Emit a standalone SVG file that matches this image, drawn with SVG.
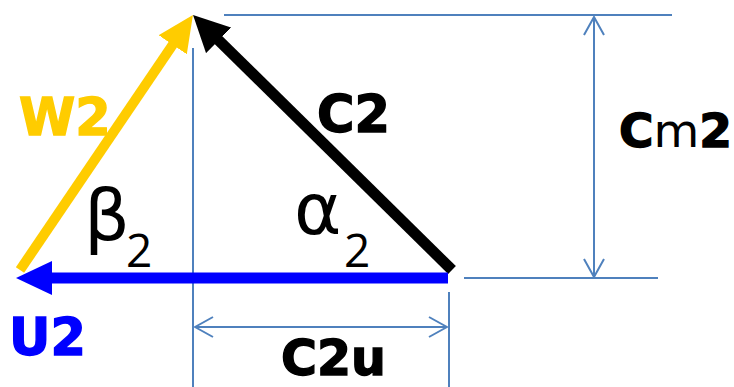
<svg xmlns="http://www.w3.org/2000/svg" width="734" height="387" viewBox="0 0 734 387">
<style>
.dim{stroke:#4F81BD;stroke-width:2;fill:none}
.lbl{font-family:"DejaVu Sans","Liberation Sans",sans-serif;font-weight:bold;font-size:51px;stroke-width:1.4}
.greek{font-family:"DejaVu Sans","Liberation Sans",sans-serif;font-size:72px;fill:#000}
.sub{font-family:"Open Sans","DejaVu Sans",sans-serif;font-size:46px;fill:#000}
</style>
<defs>
<marker id="ahY" viewBox="0 0 36 34" refX="6" refY="17" markerWidth="36" markerHeight="34" markerUnits="userSpaceOnUse" orient="auto"><path d="M0,0 L36,17 L0,34 z" fill="#FFCC00"/></marker>
<marker id="ahK" viewBox="0 0 36 36" refX="6" refY="18" markerWidth="36" markerHeight="36" markerUnits="userSpaceOnUse" orient="auto"><path d="M0,0 L36,18 L0,36 z" fill="#000"/></marker>
<marker id="ahB" viewBox="0 0 36 34" refX="6" refY="17" markerWidth="36" markerHeight="34" markerUnits="userSpaceOnUse" orient="auto"><path d="M0,0 L36,17 L0,34 z" fill="#0000FF"/></marker>
<marker id="open" viewBox="0 0 20 24" refX="19" refY="12" markerWidth="20" markerHeight="24" markerUnits="userSpaceOnUse" orient="auto-start-reverse"><path d="M1,2 L19,12 L1,22" fill="none" stroke="#4F81BD" stroke-width="2"/></marker>
</defs>
<g id="guides">
<line class="dim" x1="193" y1="48" x2="193" y2="387"/>
<line class="dim" x1="224" y1="15" x2="672" y2="15"/>
<line class="dim" x1="464" y1="278" x2="658" y2="278"/>
<line class="dim" x1="449" y1="292" x2="449" y2="387"/>
</g>
<g id="connectors">
<line x1="20" y1="270" x2="176.1" y2="39.8" stroke="#FFCC00" stroke-width="10" marker-end="url(#ahY)"/>
<line x1="452" y1="270" x2="214.4" y2="36.1" stroke="#000" stroke-width="11" marker-end="url(#ahK)"/>
<line x1="448" y1="278" x2="46" y2="278" stroke="#0000FF" stroke-width="11" marker-end="url(#ahB)"/>
<line class="dim" x1="594" y1="17" x2="594" y2="277" marker-start="url(#open)" marker-end="url(#open)"/>
<line class="dim" x1="195" y1="327" x2="447" y2="327" marker-start="url(#open)" marker-end="url(#open)"/>
</g>
<g id="W2"><text class="lbl" x="19" y="135" fill="#FFCC00" stroke="#FFCC00">W2</text></g>
<g id="C2"><text class="lbl" x="317" y="132" fill="#000" stroke="#000">C2</text></g>
<g id="U2"><text class="lbl" x="9" y="355" fill="#0000FF" stroke="#0000FF">U2</text></g>
<g id="C2u"><text class="lbl" x="281" y="375" fill="#000" stroke="#000" style="font-size:49px">C2u</text></g>
<g id="Cm2"><text class="lbl" x="619" y="147" fill="#000" stroke="#000" style="font-size:47px">C<tspan font-weight="normal" stroke="none">m</tspan>2</text></g>
<g id="beta2"><text class="greek" x="84" y="240">β</text><text class="sub" x="126" y="267">2</text></g>
<g id="alpha2"><text class="greek" x="294" y="234">α</text><text class="sub" x="344" y="267">2</text></g>
</svg>
